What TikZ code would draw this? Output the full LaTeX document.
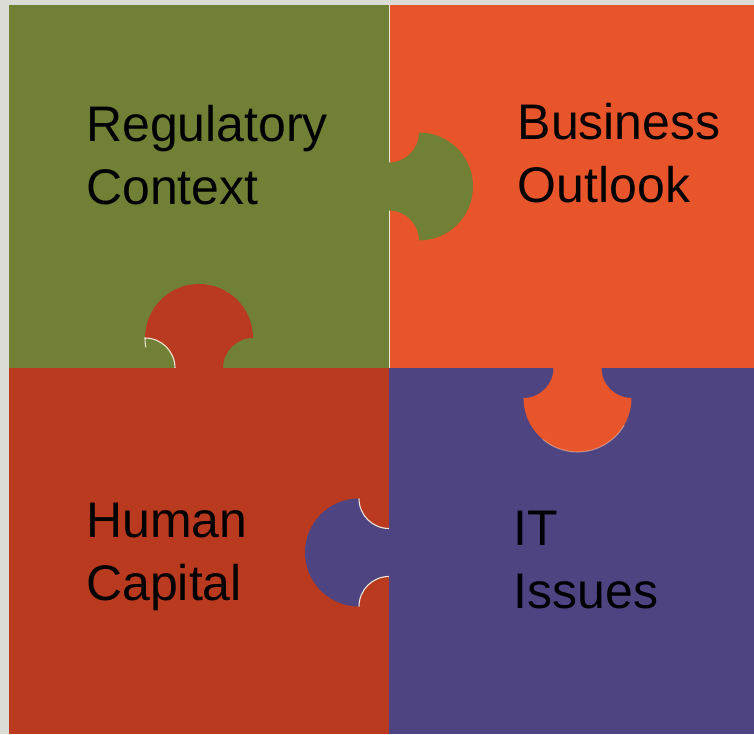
\documentclass[tikz,border=0pt]{standalone}
\usepackage{fontspec}
\setmainfont{Liberation Sans}
\definecolor{bgpc}{RGB}{220,220,214}
\definecolor{greenpc}{RGB}{112,128,52}
\definecolor{orangepc}{RGB}{232,85,42}
\definecolor{redpc}{RGB}{185,58,30}
\definecolor{purplepc}{RGB}{79,68,130}
\definecolor{edgepc}{RGB}{238,230,216}

\begin{document}
\begin{tikzpicture}[x=1pt, y=1pt,
    piecetext/.style={anchor=base west, inner sep=0pt, align=left,
      font=\fontsize{50}{63}\selectfont, text=black},
    seam/.style={draw=edgepc, line width=1pt},
    rim/.style={draw=edgepc, line width=1.1pt}]

  % Background
  \fill[bgpc] (0,0) rectangle (754,734);

  % Pieces
  \fill[greenpc]  (9,366)   rectangle (389,729);
  \fill[orangepc] (389,366) rectangle (754,729);
  \fill[redpc]    (9,0)     rectangle (389,366);
  \fill[purplepc] (389,0)   rectangle (754,366);

  % Seam between top pieces
  \draw[seam] (389.5,366) -- (389.5,729);

  % Tabs (local frame: boundary at origin, tab points to +x)
  \foreach \col/\bx/\by/\rot in {greenpc/389/547.5/0, redpc/199/366/90,
                                 orangepc/577.5/366/-90, purplepc/389/181.5/180} {
    \fill[\col, shift={(\bx,\by)}, rotate=\rot]
      (-2,24) -- (0,24)
      arc[start angle=-90, end angle=0, radius=30]
      arc[start angle=90, end angle=-90, radius=54]
      arc[start angle=0, end angle=90, radius=30]
      -- (-2,-24) -- cycle;
  }

  % Light rims on the cuts
  \draw[rim, shift={(199,366)}, rotate=90]
    (0,24) arc[start angle=-90, end angle=0, radius=30]
    arc[start angle=90, end angle=100, radius=54];
  \draw[rim, shift={(389,181.5)}, rotate=180]
    (0,24) arc[start angle=-90, end angle=0, radius=30];
  \draw[rim, shift={(389,181.5)}, rotate=180]
    (0,-24) arc[start angle=90, end angle=0, radius=30];
  \draw[rim, draw opacity=0.4, shift={(577.5,366)}, rotate=-90]
    (30,0) ++(60:54) arc[start angle=60, end angle=-40, radius=54];

  % Texts (base anchor sits on the last line)
  \node[piecetext] (reg) at (86,529)    {Regulatory\\Context};
  \node[piecetext] (bus) at (517.5,531) {Business\\Outlook};
  \node[piecetext] (hum) at (86,134)    {Human\\Capital};
  \node[piecetext] (its) at (513.5,126) {IT\\Issues};

\end{tikzpicture}
\end{document}
